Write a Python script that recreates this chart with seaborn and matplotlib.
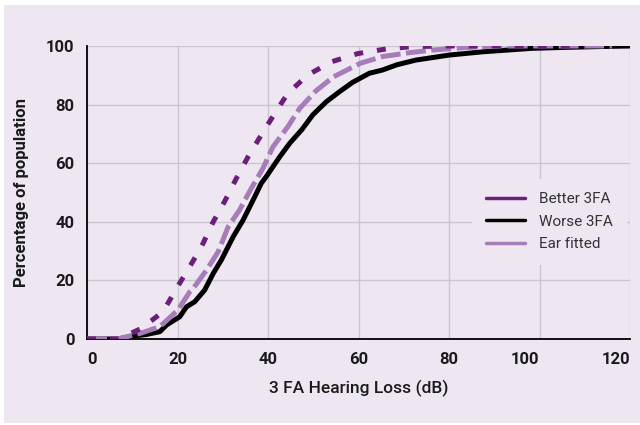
import matplotlib
matplotlib.use("Agg")
import matplotlib.pyplot as plt
from matplotlib import font_manager
from matplotlib.lines import Line2D
from matplotlib.patches import Rectangle
from matplotlib.ticker import MultipleLocator
import seaborn as sns
import pandas as pd

# Cumulative distributions of 3FA hearing loss (dB) vs. percentage of population
better_db = [0, 7, 12, 16.8, 19.8, 22.7, 25.3, 27.9, 30.4, 33.0, 35.6, 38.5, 41.5,
             44.4, 48.8, 54.0, 59.8, 66.1, 72.0, 80, 90, 100, 110]
better_pct = [0, 0, 3.6, 9.3, 17.3, 24.7, 31.5, 40.0, 46.9, 54.8, 62.2, 69.6, 77.0,
              83.9, 90.1, 94.6, 97.4, 99.0, 99.8, 100, 100, 100, 100]

worse_db = [0, 6.8, 10.2, 13, 16.1, 17.6, 20.5, 22.0, 23.8, 26.0, 27.9, 29.7, 32.3,
            34.5, 36.7, 38.5, 39.6, 42.6, 44.8, 47.5, 49.9, 52.9, 55.8, 58.7, 62.4,
            65.3, 68.5, 72.7, 80, 87.3, 98.3, 105, 113, 120]
worse_pct = [0, 0, 1.0, 1.5, 2.5, 4.8, 7.6, 11.0, 12.7, 16.7, 22.4, 27.0, 34.9,
             40.6, 47.4, 53.1, 55.4, 62.2, 66.8, 71.5, 76.5, 81.0, 84.4, 87.6, 90.7,
             91.8, 93.6, 95.2, 96.9, 98.0, 99.2, 99.5, 99.8, 100]

fitted_db = [0, 6.8, 11.7, 16.1, 20.1, 22.7, 23.5, 26.4, 29.0, 31.2, 33.7, 36.3,
             38.9, 41.1, 44.4, 47.0, 50.6, 54.5, 60.4, 65.3, 71.2, 76.3, 83.7, 91,
             100, 116]
fitted_pct = [0, 0, 1.9, 4.2, 9.9, 16.1, 17.3, 23.5, 29.8, 38.3, 44.0, 51.4,
              58.3, 65.6, 72.5, 78.7, 84.7, 89.5, 94.1, 96.4, 97.7, 98.6, 99.5, 100,
              100, 100]

series_names = ["Better 3FA", "Worse 3FA", "Ear fitted"]
x_ticks = [0, 20, 40, 60, 80, 100, 120]
y_ticks = [0, 20, 40, 60, 80, 100]

BG = "#EEE7F2"
DARK_PURPLE = "#6C1F7A"
BLACK = "#000000"
LIGHT_PURPLE = "#A67DB9"
GRID = "#C9C6CC"

sns.set_style("white")

installed = {f.name for f in font_manager.fontManager.ttflist}
family = "Liberation Sans Narrow" if "Liberation Sans Narrow" in installed else "Roboto"
plt.rcParams["font.family"] = [family, "DejaVu Sans"]

fig = plt.figure(figsize=(6.4, 4.25), dpi=100, facecolor="white")
# lavender panel with a thin white margin
fig.patches.append(Rectangle((4 / 640, 2 / 425), 1 - 4 / 640, 1 - 7 / 425,
                             transform=fig.transFigure, facecolor=BG,
                             edgecolor="none", zorder=-10))
ax = fig.add_axes([87 / 640, 1 - 339 / 425, 543 / 640, 293 / 425])
ax.set_facecolor(BG)

frames = {
    "Better 3FA": pd.DataFrame({"db": better_db, "pct": better_pct}),
    "Worse 3FA": pd.DataFrame({"db": worse_db, "pct": worse_pct}),
    "Ear fitted": pd.DataFrame({"db": fitted_db, "pct": fitted_pct}),
}

LW = 3.6
sns.lineplot(data=frames["Worse 3FA"], x="db", y="pct", ax=ax, color=BLACK,
             lw=LW, zorder=3)
sns.lineplot(data=frames["Ear fitted"], x="db", y="pct", ax=ax, color=LIGHT_PURPLE,
             lw=LW, dashes=(4.0, 1.1), zorder=4)
sns.lineplot(data=frames["Better 3FA"], x="db", y="pct", ax=ax, color=DARK_PURPLE,
             lw=LW, dashes=(1.8, 2.8), zorder=5)

ax.set_xlim(0, 120)
ax.set_ylim(0, 100)
ax.set_xticks(x_ticks)
ax.set_yticks(y_ticks)
ax.xaxis.set_minor_locator(MultipleLocator(10))
ax.yaxis.set_minor_locator(MultipleLocator(10))
ax.grid(True, which="major", color=GRID, lw=1.0, zorder=1)
ax.set_axisbelow(True)

for side in ("top", "right"):
    ax.spines[side].set_visible(False)
for side in ("left", "bottom"):
    ax.spines[side].set_color("black")
    ax.spines[side].set_linewidth(1.3)

ax.tick_params(which="both", direction="in", color="black", width=1.3)
ax.tick_params(which="major", length=5, pad=9, labelsize=12, labelcolor="#1a1a1a")
ax.tick_params(which="minor", length=5)
for lab in ax.get_xticklabels() + ax.get_yticklabels():
    lab.set_fontweight("bold")
xlabs = ax.get_xticklabels()
xlabs[0].set_horizontalalignment("left")
xlabs[-2].set_horizontalalignment("right")
xlabs[-1].set_horizontalalignment("right")

ax.set_xlabel("3 FA Hearing Loss (dB)", fontsize=12.5, fontweight="medium",
              color="#1a1a1a", labelpad=10)
ax.set_ylabel("Percentage of population", fontsize=12, fontweight="bold",
              color="#1a1a1a", labelpad=12)

handles = [Line2D([], [], color=DARK_PURPLE, lw=2.5),
           Line2D([], [], color=BLACK, lw=2.5),
           Line2D([], [], color=LIGHT_PURPLE, lw=2.5)]
leg = ax.legend(handles, series_names, loc="center left",
                bbox_to_anchor=(0.695, 0.40), frameon=True, fontsize=11,
                handlelength=2.6, handletextpad=0.9, labelspacing=0.55,
                borderpad=0.9)
leg.get_frame().set_facecolor(BG)
leg.get_frame().set_edgecolor("none")
leg.get_frame().set_alpha(1)
for t in leg.get_texts():
    t.set_color("#333333")

fig.savefig("out.png", dpi=100, facecolor=fig.get_facecolor())
